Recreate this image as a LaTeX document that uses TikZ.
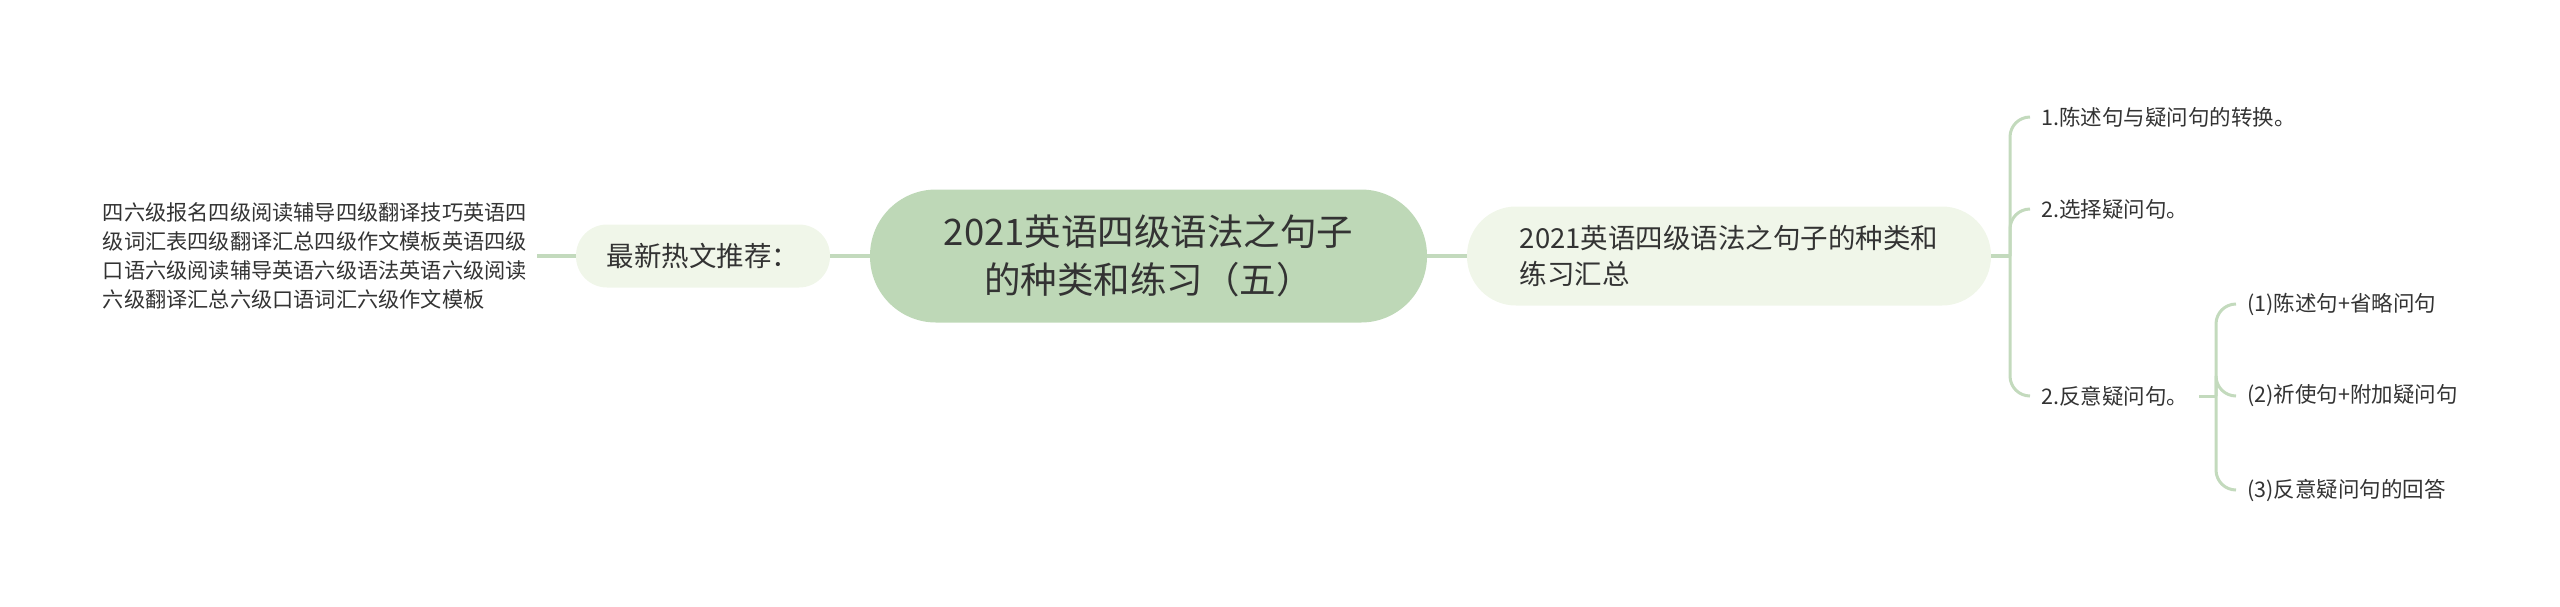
\documentclass[tikz,border=0pt]{standalone}
\usepackage{fontspec}
\setmainfont{Noto Sans CJK SC}
\definecolor{rootgreen}{RGB}{190,216,183}
\definecolor{paleleaf}{RGB}{240,246,233}
\definecolor{stemgreen}{RGB}{195,218,189}
\definecolor{ink}{RGB}{51,51,51}

\begin{document}
\begin{tikzpicture}[x=1pt,y=1pt,
  root/.style={fill=rootgreen, text=ink, rounded corners=66pt, minimum width=557pt, minimum height=133pt, align=center, font=\fontsize{36.5}{48}\selectfont},
  topic/.style={fill=paleleaf, text=ink, rounded corners=49pt, minimum width=524pt, minimum height=99pt, align=left, font=\fontsize{27.5}{36}\selectfont},
  hotbox/.style={fill=paleleaf, text=ink, rounded corners=31pt, minimum width=254pt, minimum height=63pt, font=\fontsize{27.5}{32}\selectfont},
  leaf/.style={anchor=west, text=ink, inner xsep=11pt, inner ysep=0pt, font=\fontsize{21.5}{26}\selectfont},
  stem/.style={draw=stemgreen, line width=4pt},
  twig/.style={draw=stemgreen, line width=3pt, rounded corners=20pt}]
\useasboundingbox (0,0) rectangle (2560,-606);

\node[root] (main) at (1148.5,-256) {2021英语四级语法之句子\\的种类和练习（五）};
\node[topic] (sum) at (1729,-256) {2021英语四级语法之句子的种类和\\练习汇总};
\node[hotbox] (hot) at (703,-256) {最新热文推荐：};
\node[anchor=east, text=ink, align=left, inner xsep=10pt, font=\fontsize{21.2}{29}\selectfont] (hotlist) at (537,-256)
  {四六级报名四级阅读辅导四级翻译技巧英语四\\级词汇表四级翻译汇总四级作文模板英语四级\\口语六级阅读辅导英语六级语法英语六级阅读\\六级翻译汇总六级口语词汇六级作文模板};

\node[leaf] (conv) at (2030,-117) {1.陈述句与疑问句的转换。};
\node[leaf] (choice) at (2030,-209) {2.选择疑问句。};
\node[leaf] (tag) at (2030,-396) {2.反意疑问句。};
\node[leaf] (tagA) at (2236,-304) {(1)陈述句+省略问句};
\node[leaf] (tagB) at (2236,-396) {(2)祈使句+附加疑问句};
\node[leaf] (tagC) at (2236,-490) {(3)反意疑问句的回答};

\draw[stem] (hotlist.east) -- (hot.west);
\draw[stem] (hot.east) -- (main.west);
\draw[stem] (main.east) -- (sum.west);

\coordinate (fork) at (2010,-256);
\draw[stem] (sum.east) -- (fork);
\foreach \leafname in {conv,choice,tag}
  \draw[twig] (fork) |- (\leafname.west);

\coordinate (subfork) at (2216,-396);
\draw[twig] (tag.east) -- (subfork);
\foreach \leafname in {tagA,tagB,tagC}
  \draw[twig] (subfork) |- (\leafname.west);
\end{tikzpicture}
\end{document}
